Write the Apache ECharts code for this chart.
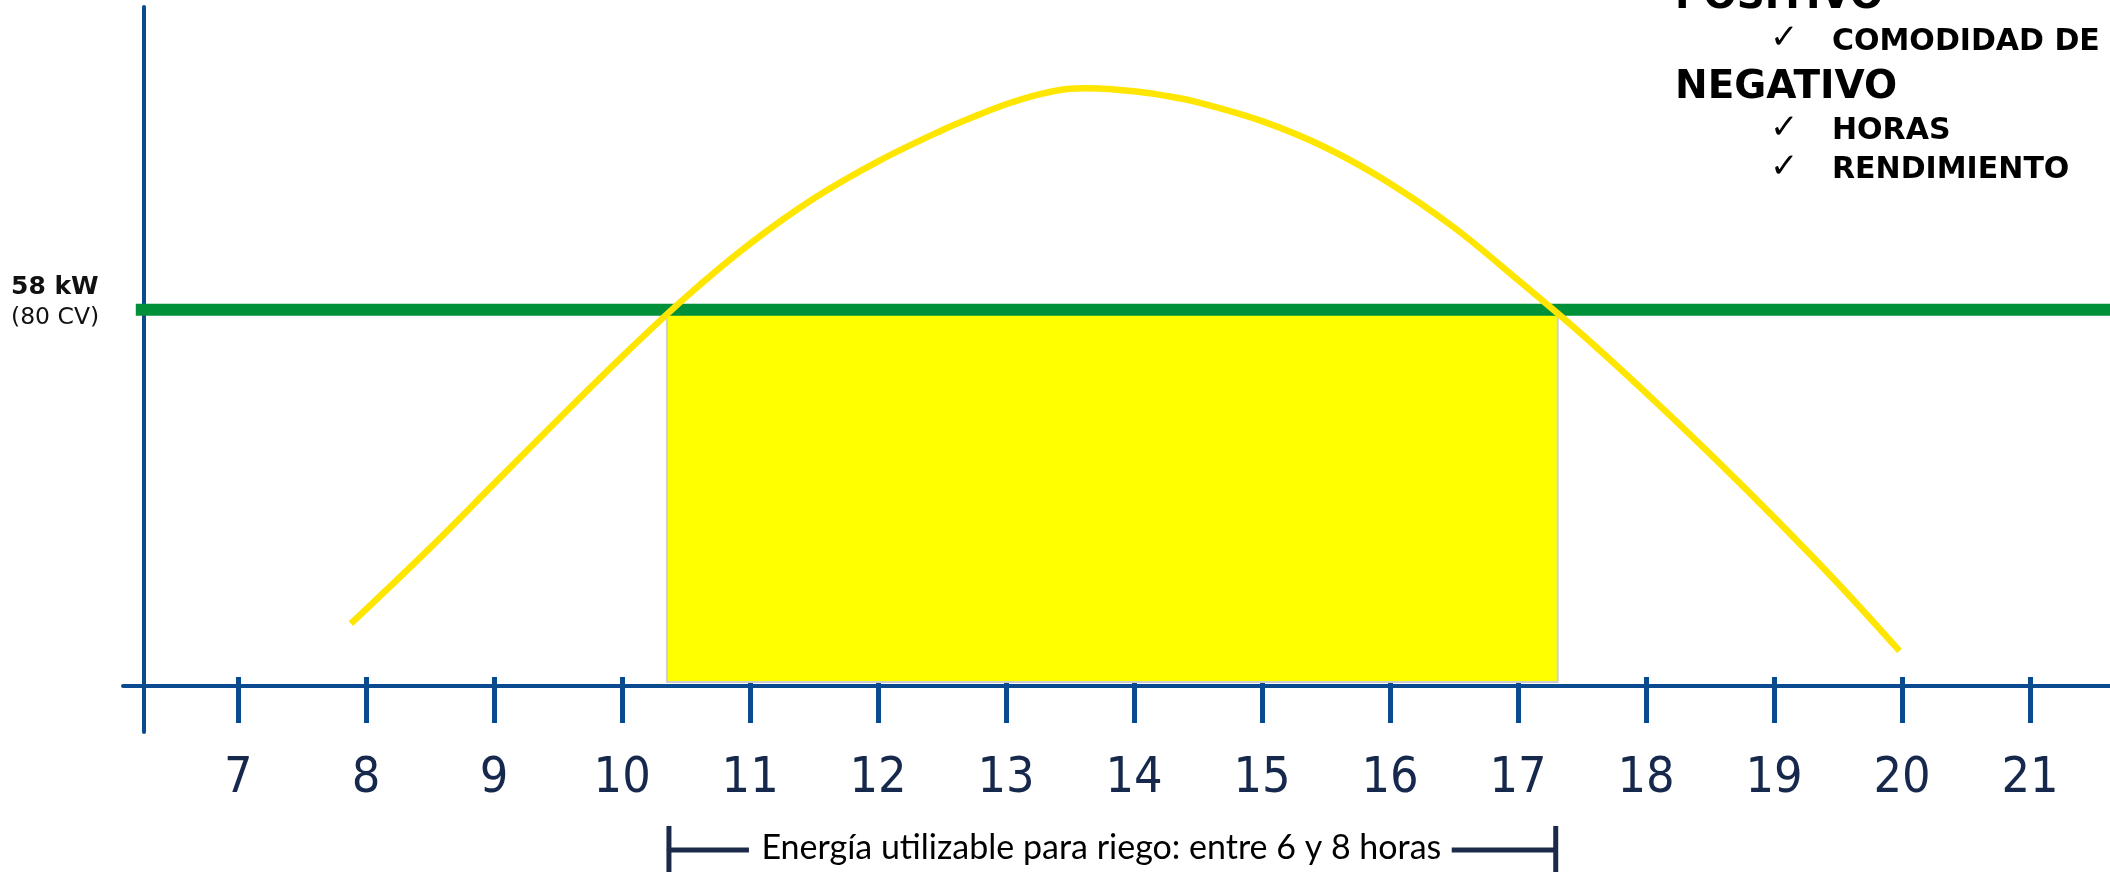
<!DOCTYPE html>
<html>
<head>
<meta charset="utf-8">
<script src="https://cdn.jsdelivr.net/npm/echarts@6/dist/echarts.min.js"></script>
<style>
  html, body { margin: 0; padding: 0; background: #ffffff; }
  #chart { width: 2110px; height: 872px; }
</style>
</head>
<body>
<div id="chart"></div>
<script>
// Hour of the day (x) and available power in kW (y) for the daily curve
const hours    = [7.88, 8.5, 9, 9.5, 10, 10.5, 11, 11.5, 12, 12.5, 12.75, 13, 13.25, 13.5, 13.75, 14, 14.25, 14.5, 15, 15.5, 16, 16.5, 17, 17.5, 18, 18.5, 19, 19.5, 19.98];
const powerKW  = [9.6, 21.3, 31.2, 41.1, 50.8, 60.0, 68.2, 75.2, 80.9, 85.7, 87.8, 89.7, 91.2, 92.1, 92.1, 91.7, 91.0, 90.0, 87.1, 83.0, 77.5, 70.7, 62.6, 54.2, 45.2, 35.8, 26.0, 15.8, 5.4];

// Hour tick labels
const hourTicks = [7, 8, 9, 10, 11, 12, 13, 14, 15, 16, 17, 18, 19, 20, 21];

// Rated pump power and its label
const ratedKW = 58;
const ratedLabel = ['58 kW', '(80 CV)'];

// Usable irrigation window (start hour, end hour)
const irrigationWindow = [10.35, 17.31];
const windowCaption = 'Energía utilizable para riego: entre 6 y 8 horas';

// Pros / cons list
const positiveTitle = 'POSITIVO';
const positiveItems = ['COMODIDAD DE TRABAJO'];
const negativeTitle = 'NEGATIVO';
const negativeItems = ['HORAS', 'RENDIMIENTO'];

const X_MIN = 6.1, X_MAX = 21.625;
const Y_MIN = -7.1, Y_MAX = 104.7;

const AXIS_BLUE = '#0a4b8f';
const NAVY = '#16284c';

const chart = echarts.init(document.getElementById('chart'), null, { renderer: 'canvas' });

const curveData = hours.map((h, i) => [h, powerKW[i]]);

const listFont = 'bold 30px "DejaVu Sans", sans-serif';
const titleFont = 'bold 39px "DejaVu Sans", sans-serif';
const checkFont = '34px "DejaVu Sans", sans-serif';

function listText(text, x, y, font) {
  return { type: 'text', x: x, y: y, silent: true,
    style: { text: text, font: font, fill: '#000', align: 'left', verticalAlign: 'middle' } };
}

const graphics = [
  listText(positiveTitle, 1675, -2.5, titleFont),
  listText('\u2713', 1770, 39, checkFont),
  listText(positiveItems[0], 1832, 42, listFont),
  listText(negativeTitle, 1675, 87.5, titleFont),
  listText('\u2713', 1770, 129, checkFont),
  listText(negativeItems[0], 1832, 131, listFont),
  listText('\u2713', 1770, 168, checkFont),
  listText(negativeItems[1], 1832, 170, listFont)
];

const xAxisCommon = {
  type: 'value',
  min: X_MIN,
  max: X_MAX,
  splitLine: { show: false }
};

const option = {
  animation: false,
  backgroundColor: '#ffffff',
  grid: { left: 123, right: 0, top: 7, bottom: 140, containLabel: false, outerBoundsMode: 'none' },
  xAxis: [
    Object.assign({}, xAxisCommon, {
      position: 'bottom',
      axisLine: { show: true, onZero: true, onZeroAxisIndex: 0, lineStyle: { color: AXIS_BLUE, width: 4 } },
      axisTick: { show: true, inside: false, length: 37, customValues: hourTicks, lineStyle: { color: AXIS_BLUE, width: 5 } },
      axisLabel: {
        show: true, customValues: hourTicks, margin: 22,
        color: NAVY, fontSize: 50,
        fontFamily: '"Liberation Sans Narrow", "DejaVu Sans Condensed", Lato, sans-serif'
      }
    }),
    Object.assign({}, xAxisCommon, {
      position: 'top',
      axisLine: { show: false, onZero: true, onZeroAxisIndex: 0 },
      axisTick: { show: true, inside: false, length: 9, customValues: hourTicks, lineStyle: { color: AXIS_BLUE, width: 5 } },
      axisLabel: { show: false }
    })
  ],
  yAxis: {
    type: 'value',
    min: Y_MIN,
    max: Y_MAX,
    position: 'left',
    offset: -21,
    splitLine: { show: false },
    axisLine: { show: true, lineStyle: { color: AXIS_BLUE, width: 4 } },
    axisTick: { show: false },
    axisLabel: {
      show: true,
      customValues: [ratedKW],
      align: 'left',
      margin: 133,
      padding: [0, 0, 14, 0],
      formatter: function () { return '{b|' + ratedLabel[0] + '}\n{n|' + ratedLabel[1] + '}'; },
      rich: {
        b: { fontFamily: '"DejaVu Sans", sans-serif', fontWeight: 'bold', fontSize: 25, lineHeight: 30, color: '#111', align: 'left' },
        n: { fontFamily: '"DejaVu Sans", sans-serif', fontSize: 23.5, lineHeight: 30, color: '#111', align: 'left' }
      }
    }
  },
  series: [
    {
      // usable energy block under the rated-power line
      type: 'custom',
      z: 1,
      silent: true,
      data: [[irrigationWindow[0], irrigationWindow[1], ratedKW]],
      encode: { x: [0, 1], y: 2 },
      renderItem: function (params, api) {
        const p0 = api.coord([api.value(0), 0]);
        const p1 = api.coord([api.value(1), api.value(2)]);
        return {
          type: 'rect',
          shape: { x: p0[0], y: p1[1], width: p1[0] - p0[0], height: p0[1] - p1[1] - 4 },
          style: { fill: '#ffff00', stroke: '#cfcfcf', lineWidth: 2 }
        };
      }
    },
    {
      // rated power line
      type: 'line',
      z: 2,
      silent: true,
      symbol: 'none',
      data: [[6.2, ratedKW], [X_MAX, ratedKW]],
      lineStyle: { color: '#00903a', width: 12 }
    },
    {
      // daily power curve, drawn as one smoothed polyline through all readings
      type: 'custom',
      z: 3,
      silent: true,
      data: curveData,
      encode: { x: 0, y: 1 },
      renderItem: function (params, api) {
        if (params.dataIndex !== 0) return null;
        const pts = curveData.map(d => api.coord(d));
        return {
          type: 'polyline',
          shape: { points: pts, smooth: 0.35 },
          style: { stroke: '#ffe600', lineWidth: 6.5, fill: null, lineCap: 'butt', lineJoin: 'round' }
        };
      }
    },
    {
      // bracket and caption for the usable window, below the hour axis
      type: 'custom',
      z: 3,
      silent: true,
      clip: false,
      data: [[irrigationWindow[0], irrigationWindow[1]]],
      encode: { x: [0, 1] },
      renderItem: function (params, api) {
        const a = api.coord([api.value(0), 0]);
        const b = api.coord([api.value(1), 0]);
        const yMid = a[1] + 164;
        const yTop = a[1] + 140;
        const yBot = a[1] + 188;
        const leftBar = 82, rightBar = 106;
        const textCenter = ((a[0] + leftBar + 21) + (b[0] - rightBar - 19)) / 2;
        const barStyle = { stroke: '#1b2a4a', lineWidth: 5 };
        return {
          type: 'group',
          children: [
            { type: 'line', shape: { x1: a[0] + 2, y1: yTop, x2: a[0] + 2, y2: yBot }, style: barStyle },
            { type: 'line', shape: { x1: a[0], y1: yMid, x2: a[0] + leftBar, y2: yMid }, style: barStyle },
            { type: 'line', shape: { x1: b[0] - rightBar, y1: yMid, x2: b[0], y2: yMid }, style: barStyle },
            { type: 'line', shape: { x1: b[0] - 2, y1: yTop, x2: b[0] - 2, y2: yBot }, style: barStyle },
            { type: 'text', x: textCenter, y: yMid - 2,
              style: { text: windowCaption, font: '34px Lato, sans-serif', fill: '#000', align: 'center', verticalAlign: 'middle' } }
          ]
        };
      }
    }
  ],
  graphic: graphics
};

chart.setOption(option);
</script>
</body>
</html>
